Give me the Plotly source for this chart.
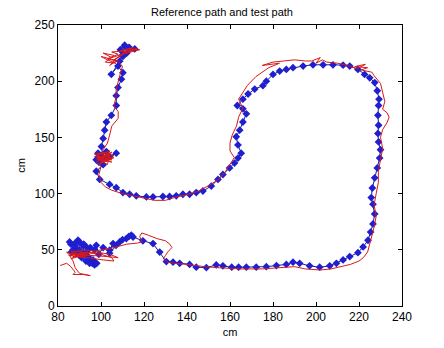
import plotly.graph_objects as go

# Test path (blue, diamonds)
blue_x = [85.4, 86.0, 88.0, 89.3, 90.0, 91.6, 92.0, 94.0, 94.0, 95.0, 96.3, 96.0, 97.0, 98.0, 94.7,
          93.0, 91.0, 90.0, 89.0, 87.0, 86.2, 87.8, 88.0, 90.0, 92.0, 93.2, 95.0, 97.0, 97.8, 99.0,
          101.0, 104.0, 105.6, 104.0, 107.0, 108.7, 110.0, 111.8, 113.0, 114.1, 114.9, 119.5, 124.2,
          127.3, 130.4, 133.5, 136.6, 141.2, 144.3, 149.0, 153.6, 156.7, 160.8, 164.0, 167.6, 172.2,
          176.9, 181.6, 186.2, 189.3, 192.4, 197.0, 201.7, 206.4, 209.5, 212.6, 215.7, 219.5, 221.9,
          224.2, 225.4, 226.5, 227.3, 226.5, 225.7, 226.2, 227.3, 228.5, 229.6, 230.0, 229.1, 228.8,
          229.1, 228.8, 229.1, 229.3, 228.5, 227.3, 225.0, 222.6, 219.5, 215.7, 212.6, 207.9, 203.3,
          198.6, 194.0, 189.3, 186.2, 183.1, 180.0, 176.9, 175.3, 171.5, 168.4, 166.0, 163.4, 166.0,
          167.6, 166.0, 164.5, 162.9, 163.7, 165.2, 163.7, 162.1, 159.8, 156.7, 154.4, 151.3, 147.4,
          144.3, 141.2, 138.1, 135.0, 131.9, 128.8, 124.2, 121.1, 116.4, 113.3, 110.2, 107.1, 104.0,
          99.4, 97.8, 101.0, 97.8, 98.6, 100.0, 102.5, 104.0, 107.1, 102.5, 99.0, 101.0, 100.2, 101.0,
          101.7, 102.5, 104.8, 107.1, 107.1, 107.9, 109.5, 110.2, 107.9, 104.8, 108.7, 110.2, 111.1,
          113.4, 115.7, 112.0, 110.2, 109.0, 111.0, 113.0]
blue_y = [57.0, 55.0, 52.0, 58.5, 50.0, 54.0, 47.0, 50.0, 44.0, 41.0, 41.0, 38.0, 36.5, 38.0, 38.0,
          40.0, 43.0, 45.0, 47.0, 50.0, 48.0, 54.0, 56.0, 57.0, 55.0, 52.6, 52.0, 50.0, 54.0, 46.0,
          52.0, 49.7, 55.5, 47.0, 54.0, 57.0, 59.0, 60.0, 62.0, 63.0, 61.4, 58.0, 55.5,
          48.0, 39.5, 39.0, 38.0, 37.0, 34.5, 34.2, 36.5, 35.7, 34.5, 34.5, 34.5, 34.5,
          35.0, 36.0, 37.0, 39.0, 38.0, 35.7, 34.5, 35.7, 38.0, 41.0, 44.0, 47.4, 52.6,
          58.5, 65.8, 73.0, 81.9, 90.6, 96.5, 105.0, 114.0, 122.8, 131.6, 139.0, 146.0, 153.5,
          160.8, 169.6, 178.4, 184.0, 191.5, 198.8, 203.0, 206.0, 210.5, 213.5, 214.3, 214.6, 214.6,
          214.6, 213.5, 212.0, 210.5, 209.0, 206.0, 200.0, 196.0, 193.0, 188.6, 184.0, 178.4, 175.4,
          171.0, 163.7, 156.4, 150.6, 143.3, 136.0, 131.6, 127.2, 122.8, 117.0, 112.6, 106.7, 102.3,
          100.9, 99.4, 99.4, 98.0, 97.4, 97.4, 97.0, 97.0, 98.0, 99.4, 100.9, 105.3, 108.2,
          112.6, 119.9, 125.7, 130.1, 136.0, 134.0, 137.4, 133.0, 136.0, 131.6, 128.0, 132.0, 141.8, 149.1,
          156.4, 163.7, 169.6, 178.4, 187.1, 194.4, 201.8, 207.6, 213.5, 206.1, 217.8, 223.7, 231.0,
          229.5, 228.7, 225.0, 222.0, 228.0, 232.0, 230.0]

# Reference path (red line)
red_x = [81, 84, 86, 88, 87, 92, 95, 90, 88, 87, 85, 84, 90, 96, 101, 106, 105, 100, 94, 86, 88, 95,
         86, 92, 85, 94, 87, 93, 86, 91, 89, 95,
         103, 108, 104, 98, 92, 86, 90, 97, 104, 108, 112, 117, 119, 118, 119, 122, 126, 130, 132, 133,
         131, 130, 129, 131, 134, 140, 148, 155, 165, 175, 182, 188, 190, 195, 202, 207, 212, 216, 220,
         222, 224, 225, 226, 227, 228, 227, 228, 229, 229, 230, 231, 230, 231, 233, 234, 233, 231, 232,
         231, 230, 227, 226, 221, 224, 218, 223, 219, 215, 210, 205, 203, 200, 202, 198, 195, 190, 185,
         180, 175, 183, 178, 172, 168, 166, 164, 166, 164, 163, 161, 160, 160, 162, 160, 158, 155, 150,
         145, 140, 135, 130, 125, 120, 115, 110, 105, 102, 100, 99, 100, 98, 103, 99, 105, 97, 104, 100,
         106, 98, 102, 105, 99, 103, 104, 98, 105, 97, 103, 100, 106, 99, 104, 98, 102, 105, 100,
         101, 103, 104, 105, 108, 108, 106, 107, 107, 108, 109, 110,
         108, 104, 100, 103, 107, 102, 106, 101, 105, 110, 114, 118, 113, 109, 115, 110, 104, 107,
         103, 108, 105, 112, 117, 111, 106, 114]
red_y = [36, 38, 35, 30, 28, 28, 27, 29, 34, 40, 46, 48, 44, 42, 41, 40, 43, 46, 47, 49, 46, 45,
         47, 43, 45, 48, 44, 46, 42, 47, 44, 45,
         44, 43, 46, 48, 47, 45, 50, 49, 51, 53, 55, 56, 57, 62, 65, 63, 60, 58, 55, 52,
         48, 45, 42, 39, 38, 37, 35, 34, 33, 33, 34, 35, 35, 33, 32, 33, 35, 37, 40,
         43, 48, 55, 62, 70, 80, 90, 100, 110, 120, 130, 140, 150, 157, 163, 168, 172, 175, 182,
         190, 198, 205, 208, 210, 212, 213, 215, 211, 214, 216, 217, 219, 216, 221, 218, 218, 219, 218,
         217, 214, 216, 212, 204, 196, 190, 184, 176, 168, 160, 152, 145, 138, 132, 126, 120, 113, 107,
         102, 99, 97, 94, 94, 96, 98, 100, 103, 106, 110, 117, 124, 128, 135, 132, 130, 133, 138, 127,
         134, 136, 129, 137, 130, 126, 134, 131, 128, 135, 137, 129, 132, 126, 136, 130, 133, 131, 135,
         139, 145, 152, 160, 167, 173, 178, 186, 192, 200, 207, 213,
         218, 220, 222, 219, 216, 217, 223, 225, 221, 224, 226, 228, 229, 227, 230, 225, 214, 218,
         220, 224, 226, 227, 229, 225, 219, 228]

fig = go.Figure()
fig.add_trace(go.Scatter(
    x=blue_x, y=blue_y, mode="lines+markers", name="test path",
    line=dict(color="#1c1c9c", width=1),
    marker=dict(symbol="diamond", size=6, color="#1f1fd0", line=dict(width=0)),
))
fig.add_trace(go.Scatter(
    x=red_x, y=red_y, mode="lines", name="reference path",
    line=dict(color="#d81818", width=1),
))

axis_common = dict(
    showgrid=False, zeroline=False, showline=True, linecolor="black", linewidth=1,
    mirror="ticks", ticks="inside", ticklen=4, tickcolor="black",
    tickfont=dict(family="Liberation Sans, Arial, sans-serif", size=12, color="black"),
)
fig.update_layout(
    width=444, height=348,
    margin=dict(l=58, r=42, t=25, b=38),
    paper_bgcolor="white", plot_bgcolor="white",
    showlegend=False,
    title=dict(text="Reference path and test path", x=0.5, xanchor="center", y=0.965, yanchor="middle",
               font=dict(family="Liberation Sans, Arial, sans-serif", size=11, color="black")),
    xaxis=dict(range=[80, 240], tickvals=[80, 100, 120, 140, 160, 180, 200, 220, 240],
               title=dict(text="cm", standoff=4,
                          font=dict(family="Liberation Sans, Arial, sans-serif", size=11, color="black")),
               **axis_common),
    yaxis=dict(range=[0, 250], tickvals=[0, 50, 100, 150, 200, 250],
               title=dict(text="cm", standoff=6,
                          font=dict(family="Liberation Sans, Arial, sans-serif", size=11, color="black")),
               **axis_common),
)
fig.write_html("out.html")
